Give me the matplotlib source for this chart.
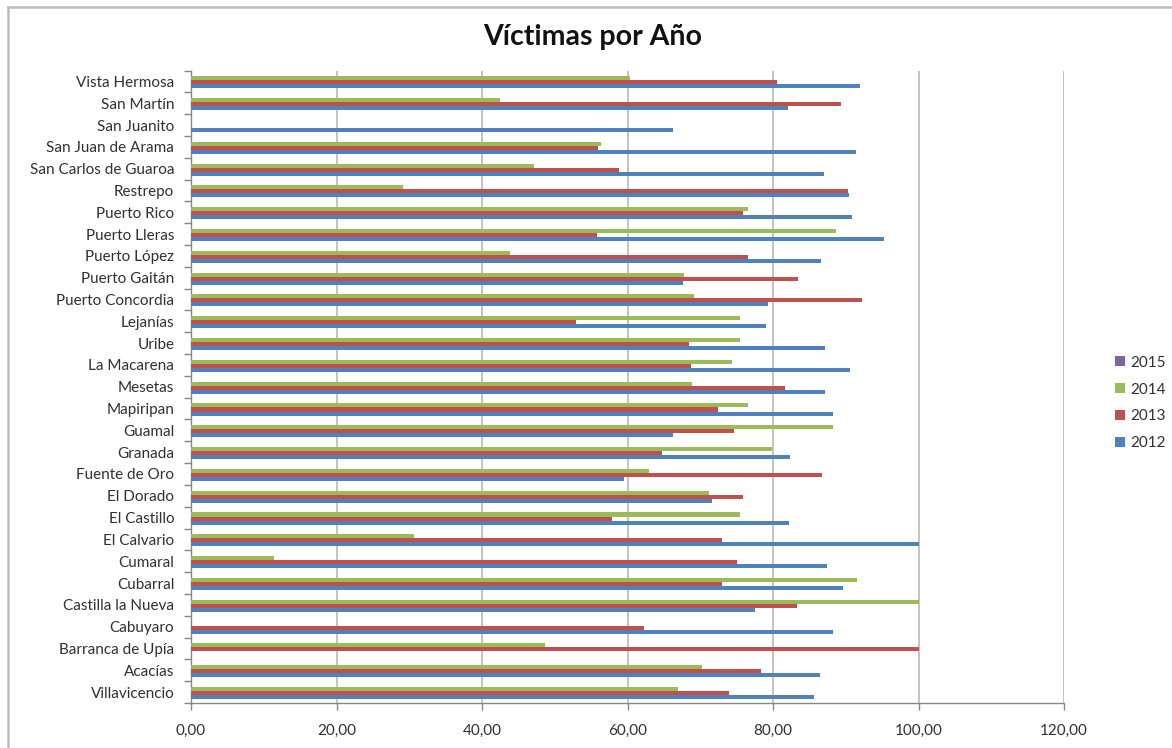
import matplotlib
matplotlib.use("Agg")
import matplotlib.pyplot as plt
import numpy as np
from matplotlib.ticker import FuncFormatter, FixedLocator
from matplotlib.lines import Line2D
from matplotlib.patches import Patch

plt.rcParams['font.family'] = ['Lato', 'DejaVu Sans']

# Categories listed bottom to top
categories = ["Villavicencio", "Acacías", "Barranca de Upía", "Cabuyaro",
              "Castilla la Nueva", "Cubarral", "Cumaral", "El Calvario",
              "El Castillo", "El Dorado", "Fuente de Oro", "Granada", "Guamal",
              "Mapiripan", "Mesetas", "La Macarena", "Uribe", "Lejanías",
              "Puerto Concordia", "Puerto Gaitán", "Puerto López",
              "Puerto Lleras", "Puerto Rico", "Restrepo",
              "San Carlos de Guaroa", "San Juan de Arama", "San Juanito",
              "San Martín", "Vista Hermosa"]

v2012 = [85.7, 86.4, 0.0, 88.3, 77.5, 89.6, 87.4, 100.0, 82.2, 71.6, 59.5,
         82.3, 66.3, 88.3, 87.2, 90.6, 87.1, 79.1, 79.3, 67.6, 86.6, 95.3,
         90.8, 90.4, 87.0, 91.4, 66.3, 82.0, 91.9]
v2013 = [73.9, 78.3, 100.0, 62.3, 83.3, 73.0, 75.0, 73.0, 57.9, 75.9, 86.8,
         64.8, 74.7, 72.4, 81.7, 68.7, 68.4, 52.9, 92.2, 83.4, 76.6, 55.8,
         75.9, 90.3, 58.8, 55.9, 0.0, 89.4, 80.5]
v2014 = [67.0, 70.3, 48.6, 0.0, 100.0, 91.5, 11.4, 30.6, 75.5, 71.2, 63.0,
         79.9, 88.3, 76.5, 68.8, 74.3, 75.5, 75.5, 69.1, 67.8, 43.9, 88.6,
         76.5, 29.1, 47.2, 56.4, 0.0, 42.5, 60.4]
v2015 = [0.0] * len(categories)

series_names = ["2012", "2013", "2014", "2015"]
series_vals = [v2012, v2013, v2014, v2015]
colors = ["#4F81BD", "#C0504D", "#9BBB59", "#8064A2"]

W, H = 1172, 748
fig = plt.figure(figsize=(W / 100, H / 100), dpi=100)
ax = fig.add_axes([191 / W, 1 - 703 / H, (1064 - 191) / W, (703 - 70.5) / H])

y = np.arange(len(categories))
bh = 0.185
offsets = [-1.5 * bh, -0.5 * bh, 0.5 * bh, 1.5 * bh]
for name, vals, col, off in zip(series_names, series_vals, colors, offsets):
    ax.barh(y + off + 0.05, vals, height=bh, color=col, linewidth=0, label=name, zorder=3)

ax.set_xlim(0, 120)
ax.set_ylim(-0.5, len(categories) - 0.5)
ax.set_xticks(np.arange(0, 121, 20))
ax.xaxis.set_major_formatter(FuncFormatter(lambda v, p: f"{v:.2f}".replace('.', ',')))
ax.set_yticks(y)
ax.set_yticklabels(categories)
ax.yaxis.set_minor_locator(FixedLocator(np.arange(-0.5, len(categories), 1.0)))
ax.tick_params(axis='y', which='major', length=0, pad=12, labelsize=11, labelcolor='#303030')
ax.tick_params(axis='y', which='minor', length=5, width=1, color='#868686', direction='out')
ax.tick_params(axis='x', which='major', length=5, width=1, color='#868686', pad=10,
               labelsize=11, labelcolor='#303030')

ax.grid(axis='x', color='#BEBEBE', linewidth=1.3, zorder=0)
ax.set_axisbelow(True)
for s in ['top', 'right']:
    ax.spines[s].set_visible(False)
for s in ['left', 'bottom']:
    ax.spines[s].set_color('#868686')
    ax.spines[s].set_linewidth(1)

fig.suptitle("Víctimas por Año", x=593 / W, y=1 - 37 / H, va='center',
             fontsize=20.5, fontweight='bold', color='#111111')

handles = [Patch(facecolor=colors[i], edgecolor='none') for i in [3, 2, 1, 0]]
labels = [series_names[i] for i in [3, 2, 1, 0]]
fig.legend(handles, labels, loc='center left', bbox_to_anchor=(1101 / W, 1 - 403 / H),
           frameon=False, fontsize=11, handlelength=0.65, handleheight=0.65,
           handletextpad=0.35, labelspacing=0.85, labelcolor='#303030')

# chart area border (left and top visible)
fig.add_artist(Line2D([8 / W, 8 / W], [0, 1 - 7 / H], transform=fig.transFigure,
                      color='#BDBDBD', linewidth=1.8))
fig.add_artist(Line2D([8 / W, 1], [1 - 7 / H, 1 - 7 / H], transform=fig.transFigure,
                      color='#BDBDBD', linewidth=1.8))

fig.savefig("out.png", dpi=100, facecolor='white')
